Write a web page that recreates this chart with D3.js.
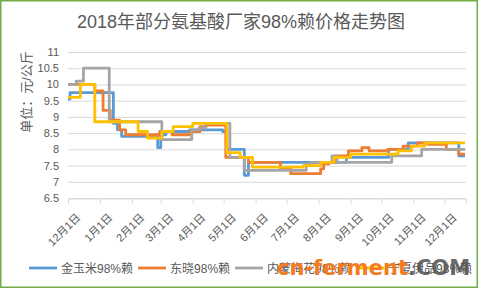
<!DOCTYPE html>
<html>
<head>
<meta charset="utf-8">
<script src="https://cdn.jsdelivr.net/npm/d3@7"></script>
<style>
  body { margin: 0; background: #fff; }
  text { font-family: "Liberation Sans", "Noto Sans CJK SC", sans-serif; fill: #595959; }
</style>
</head>
<body>
<div id="chart"></div>
<script>
// series names and colours
var names = ["金玉米98%赖", "东晓98%赖", "内蒙梅花98%赖", "宁夏伊品98%赖"];
var colors = ["#5b9bd5", "#ed7d31", "#a5a5a5", "#ffc000"];

// price change points (date, 元/公斤)
var jinyumi = [
  ["2017-12-01", 9.55], ["2017-12-03", 9.75], ["2018-01-14", 8.8], ["2018-01-18", 8.6],
  ["2018-01-22", 8.4], ["2018-02-26", 8.05], ["2018-03-01", 8.45], ["2018-03-06", 8.55],
  ["2018-03-29", 8.6], ["2018-04-30", 8.55], ["2018-05-04", 8.0], ["2018-05-21", 7.2],
  ["2018-05-25", 7.6], ["2018-08-28", 7.75], ["2018-10-08", 8.0], ["2018-10-27", 8.2],
  ["2018-12-15", 7.8], ["2018-12-21", 7.8]
];
var dongxiao = [
  ["2017-12-01", 10.0], ["2017-12-27", 9.8], ["2018-01-04", 9.2], ["2018-01-11", 8.9],
  ["2018-01-20", 8.6], ["2018-01-26", 8.45], ["2018-02-28", 8.55], ["2018-03-12", 8.45],
  ["2018-03-29", 8.55], ["2018-04-08", 8.7], ["2018-04-14", 8.75], ["2018-05-03", 7.75],
  ["2018-05-25", 7.6], ["2018-06-25", 7.4], ["2018-07-05", 7.25], ["2018-08-03", 7.4],
  ["2018-08-06", 7.55], ["2018-08-11", 7.6], ["2018-08-17", 7.8], ["2018-08-30", 7.95],
  ["2018-09-12", 8.05], ["2018-09-19", 7.95], ["2018-10-07", 8.0], ["2018-10-22", 8.1],
  ["2018-11-05", 8.2], ["2018-11-15", 8.15], ["2018-12-03", 8.0], ["2018-12-15", 7.85],
  ["2018-12-21", 7.85]
];
var neimeng = [
  ["2017-12-01", 10.0], ["2017-12-09", 10.1], ["2017-12-16", 10.5], ["2018-01-10", 8.85],
  ["2018-03-02", 8.3], ["2018-03-31", 8.6], ["2018-04-07", 8.65], ["2018-04-13", 8.8],
  ["2018-05-07", 7.75], ["2018-05-21", 7.35], ["2018-07-20", 7.55], ["2018-07-25", 7.6],
  ["2018-08-14", 7.8], ["2018-08-19", 7.6], ["2018-10-11", 7.8], ["2018-11-09", 8.0],
  ["2018-12-21", 8.0]
];
var ningxia = [
  ["2017-12-01", 9.6], ["2017-12-13", 10.0], ["2017-12-27", 8.85], ["2018-02-07", 8.55],
  ["2018-02-16", 8.35], ["2018-03-02", 8.55], ["2018-03-13", 8.7], ["2018-04-01", 8.8],
  ["2018-05-04", 7.9], ["2018-05-17", 7.75], ["2018-05-29", 7.45], ["2018-07-17", 7.5],
  ["2018-08-03", 7.6], ["2018-08-16", 7.75], ["2018-09-01", 7.85], ["2018-10-17", 7.95],
  ["2018-10-30", 8.1], ["2018-11-12", 8.2], ["2018-12-21", 8.2]
];
var yTicks = [6.5, 7, 7.5, 8, 8.5, 9, 9.5, 10, 10.5, 11];
var monthTicks = ["2017-12-01", "2018-01-01", "2018-02-01", "2018-03-01", "2018-04-01",
  "2018-05-01", "2018-06-01", "2018-07-01", "2018-08-01", "2018-09-01", "2018-10-01",
  "2018-11-01", "2018-12-01"];

var parse = d3.timeParse("%Y-%m-%d");
var series = [jinyumi, dongxiao, neimeng, ningxia];

var W = 482, H = 290;
var svg = d3.select("#chart").append("svg")
    .attr("width", W)
    .attr("height", H);

// frame
svg.append("rect")
    .attr("x", 0.75).attr("y", 0.75)
    .attr("width", 476.5).attr("height", 286.5)
    .attr("fill", "#fff")
    .attr("stroke", "#70ad47")
    .attr("stroke-width", 1.5);

var x = d3.scaleTime()
    .domain([parse("2017-12-01"), parse("2018-12-22")])
    .range([68, 466]);
var y = d3.scaleLinear()
    .domain([6.5, 11])
    .range([198, 52]);

// title
svg.append("text")
    .attr("x", 241)
    .attr("y", 28)
    .attr("text-anchor", "middle")
    .style("font-size", "18px")
    .text("2018年部分氨基酸厂家98%赖价格走势图");

// grid + y labels
svg.append("g")
    .selectAll("line")
    .data(yTicks)
    .enter().append("line")
    .attr("x1", 68).attr("x2", 466)
    .attr("y1", function(d) { return y(d) + 0.5; })
    .attr("y2", function(d) { return y(d) + 0.5; })
    .attr("stroke", "#d9d9d9")
    .attr("stroke-width", 1);

var yAxis = svg.append("g")
    .attr("transform", "translate(68,0)")
    .call(d3.axisLeft(y).tickValues(yTicks).tickSize(0).tickPadding(9)
        .tickFormat(function(d) { return d; }));
yAxis.select(".domain").remove();
yAxis.selectAll("text").style("font-size", "11px").attr("fill", "#595959");

svg.append("text")
    .attr("transform", "translate(31,92) rotate(-90)")
    .attr("text-anchor", "middle")
    .style("font-size", "13px")
    .text("单位：元/公斤");

// x axis
var xAxis = svg.append("g")
    .attr("transform", "translate(0,198.5)")
    .call(d3.axisBottom(x)
        .tickValues(monthTicks.map(parse))
        .tickSize(5)
        .tickFormat(d3.timeFormat("%-m月1日")));
xAxis.select(".domain").attr("stroke", "#d9d9d9");
xAxis.selectAll(".tick line").attr("stroke", "#d9d9d9");
xAxis.selectAll("text")
    .style("font-size", "11px")
    .attr("fill", "#595959")
    .attr("text-anchor", "end")
    .attr("dy", 0)
    .attr("transform", "translate(7,14) rotate(-45)");

// lines
var line = d3.line()
    .curve(d3.curveStepAfter)
    .x(function(d) { return x(parse(d[0])); })
    .y(function(d) { return y(d[1]); });

svg.append("g")
    .selectAll("path")
    .data(series)
    .enter().append("path")
    .attr("d", line)
    .attr("fill", "none")
    .attr("stroke", function(d, i) { return colors[i]; })
    .attr("stroke-width", 2.8)
    .attr("stroke-linejoin", "round");

// legend
var lx = 29;
names.forEach(function(n, i) {
    svg.append("line")
        .attr("x1", lx).attr("x2", lx + 28)
        .attr("y1", 268).attr("y2", 268)
        .attr("stroke", colors[i])
        .attr("stroke-width", 2.8);
    var t = svg.append("text")
        .attr("x", lx + 32)
        .attr("y", 272.5)
        .style("font-size", "12px")
        .text(n);
    lx = lx + 32 + t.node().getComputedTextLength() + 5;
});

// site stamp over the legend
var stamp = svg.append("text")
    .attr("x", 277)
    .attr("y", 275)
    .style("font-family", "DejaVu Sans")
    .style("font-weight", "bold")
    .style("font-size", "21px");
stamp.append("tspan").style("fill", "#f47b20").text("cn-ferment");
stamp.append("tspan").style("fill", "#555").attr("fill-opacity", 0.9).text(".COM");
</script>
</body>
</html>
